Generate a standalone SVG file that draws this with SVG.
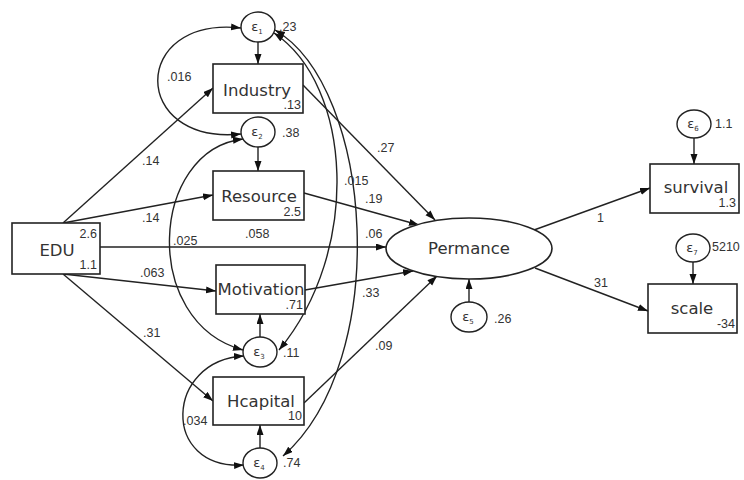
<svg xmlns="http://www.w3.org/2000/svg" width="744" height="480" viewBox="0 0 744 480">
<style>
.box{fill:#fff;stroke:#222;stroke-width:1.6}
.err{fill:#fff;stroke:#222;stroke-width:1.4}
.lab{font-family:"DejaVu Sans",sans-serif;font-size:16.5px;fill:#333;text-anchor:middle}
.num{font-family:"Liberation Sans",Arial,sans-serif;font-size:12.5px;fill:#333}
.end{text-anchor:end}
.eps{font-family:"DejaVu Sans",sans-serif;font-size:13px;fill:#333;text-anchor:middle}
.sub{font-size:7px}
.ln{fill:none;stroke:#222;stroke-width:1.4;marker-end:url(#ah)}
.cv{fill:none;stroke:#222;stroke-width:1.4;marker-start:url(#ah);marker-end:url(#ah)}
</style>
<defs>
<marker id="ah" markerUnits="userSpaceOnUse" markerWidth="10" markerHeight="8" refX="10" refY="3.5" orient="auto-start-reverse">
<path d="M0,0 L10,3.5 L0,7 z" fill="#111"/>
</marker>
</defs>
<rect width="744" height="480" fill="#fff"/>

<g id="connectors">
<path class="ln" d="M63,223 L213,88"/>
<path class="ln" d="M63,223 L213,195"/>
<path class="ln" d="M100,247 L386,247"/>
<path class="ln" d="M63,274 L216,291"/>
<path class="ln" d="M63,274 L213,401"/>
<path class="ln" d="M303,85 L435,220"/>
<path class="ln" d="M304,193 L419,225"/>
<path class="ln" d="M305,290 L413,271"/>
<path class="ln" d="M304,403 L437,276"/>
<path class="ln" d="M534,230 L650,188"/>
<path class="ln" d="M535,268 L648,311"/>
<path class="ln" d="M258,42 L258,64"/>
<path class="ln" d="M258,147 L258,171"/>
<path class="ln" d="M260,337 L260,314"/>
<path class="ln" d="M260,448 L260,425"/>
<path class="ln" d="M469,302 L469,279"/>
<path class="ln" d="M694,138 L694,164"/>
<path class="ln" d="M693,262 L693,284"/>
<path class="cv" d="M241,28 C130,16 130,145 241,134"/>
<path class="cv" d="M243,139 C150,150 140,322 243,350"/>
<path class="cv" d="M244,356 C165,360 160,470 244,465"/>
<path class="cv" d="M274,33 C352,85 362,250 279,350"/>
<path class="cv" d="M275,30 C374,88 392,360 283,456"/>
<text class="num" x="167" y="81">.016</text>
<text class="num" x="142" y="165">.14</text>
<text class="num" x="142" y="222">.14</text>
<text class="num" x="173" y="245">.025</text>
<text class="num" x="245" y="238">.058</text>
<text class="num" x="365" y="238">.06</text>
<text class="num" x="140" y="277">.063</text>
<text class="num" x="143" y="337">.31</text>
<text class="num" x="183" y="425">.034</text>
<text class="num" x="344" y="185">.015</text>
<text class="num" x="365" y="203">.19</text>
<text class="num" x="377" y="152">.27</text>
<text class="num" x="362" y="297">.33</text>
<text class="num" x="375" y="350">.09</text>
<text class="num" x="597" y="222">1</text>
<text class="num" x="594" y="287">31</text>
</g>

<g id="EDU">
<rect class="box" x="12" y="223" width="88" height="51"/>
<text class="lab" x="57" y="256">EDU</text>
<text class="num end" x="97" y="238">2.6</text>
<text class="num end" x="97" y="269">1.1</text>
</g>
<g id="Industry">
<rect class="box" x="213" y="64" width="90" height="49"/>
<text class="lab" x="257" y="96">Industry</text>
<text class="num end" x="301" y="109">.13</text>
</g>
<g id="Resource">
<rect class="box" x="213" y="171" width="91" height="49"/>
<text class="lab" x="259" y="202">Resource</text>
<text class="num end" x="301" y="216">2.5</text>
</g>
<g id="Motivation">
<rect class="box" x="216" y="265" width="89" height="49"/>
<text class="lab" x="261" y="295">Motivation</text>
<text class="num end" x="303" y="309">.71</text>
</g>
<g id="Hcapital">
<rect class="box" x="213" y="377" width="91" height="48"/>
<text class="lab" x="261" y="407">Hcapital</text>
<text class="num end" x="302" y="420">10</text>
</g>
<g id="Permance">
<ellipse class="box" cx="469" cy="248.5" rx="83" ry="30.5"/>
<text class="lab" x="469" y="254">Permance</text>
</g>
<g id="survival">
<rect class="box" x="650" y="164" width="89" height="49"/>
<text class="lab" x="696" y="193">survival</text>
<text class="num end" x="736" y="207">1.3</text>
</g>
<g id="scale">
<rect class="box" x="648" y="284" width="89" height="49"/>
<text class="lab" x="692" y="314">scale</text>
<text class="num end" x="735" y="328">-34</text>
</g>

<g id="e1">
<ellipse class="err" cx="258" cy="27" rx="17" ry="15"/>
<text class="eps" x="257" y="31">ε<tspan class="sub" dy="3">1</tspan></text>
<text class="num" x="279" y="31">.23</text>
</g>
<g id="e2">
<ellipse class="err" cx="258" cy="132" rx="17" ry="15"/>
<text class="eps" x="257" y="136">ε<tspan class="sub" dy="3">2</tspan></text>
<text class="num" x="282" y="137">.38</text>
</g>
<g id="e3">
<ellipse class="err" cx="260" cy="352" rx="17" ry="15"/>
<text class="eps" x="259" y="356">ε<tspan class="sub" dy="3">3</tspan></text>
<text class="num" x="283" y="357">.11</text>
</g>
<g id="e4">
<ellipse class="err" cx="260" cy="463" rx="17" ry="15"/>
<text class="eps" x="259" y="467">ε<tspan class="sub" dy="3">4</tspan></text>
<text class="num" x="283" y="467">.74</text>
</g>
<g id="e5">
<ellipse class="err" cx="469" cy="317" rx="18" ry="15"/>
<text class="eps" x="468" y="321">ε<tspan class="sub" dy="3">5</tspan></text>
<text class="num" x="494" y="323">.26</text>
</g>
<g id="e6">
<ellipse class="err" cx="694" cy="124" rx="17" ry="14"/>
<text class="eps" x="693" y="128">ε<tspan class="sub" dy="3">6</tspan></text>
<text class="num" x="715" y="128">1.1</text>
</g>
<g id="e7">
<ellipse class="err" cx="693" cy="248" rx="17" ry="14"/>
<text class="eps" x="692" y="252">ε<tspan class="sub" dy="3">7</tspan></text>
<text class="num" x="712" y="251">5210</text>
</g>
</svg>
